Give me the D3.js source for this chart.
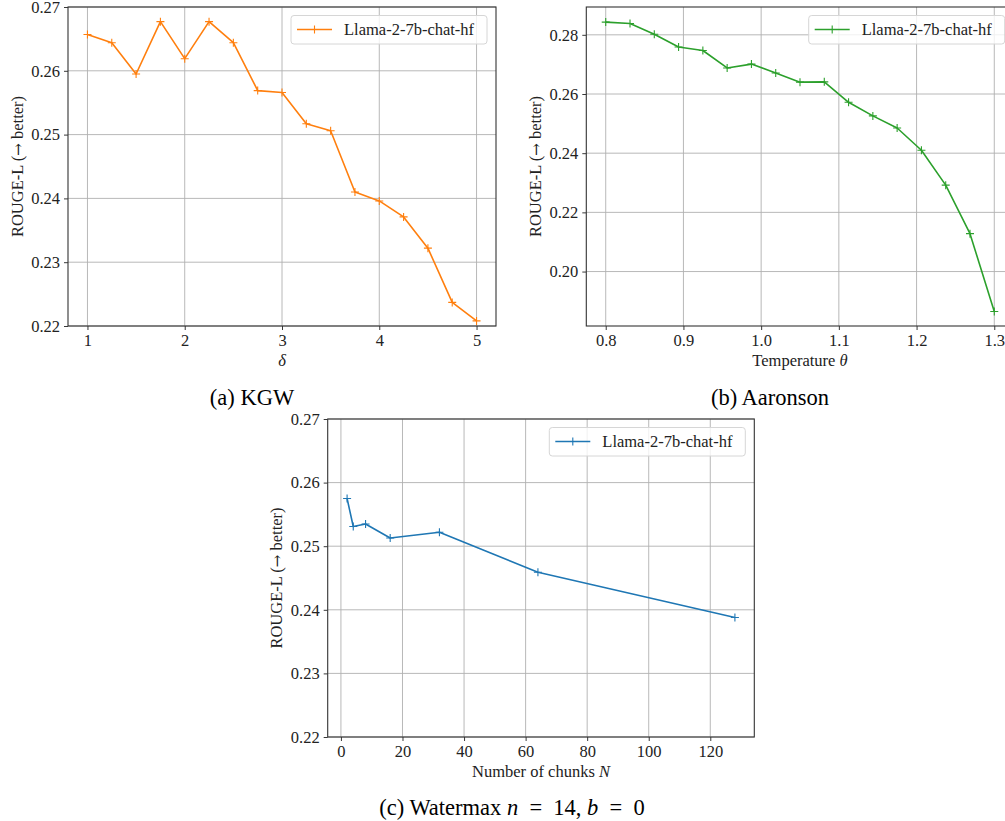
<!DOCTYPE html>
<html><head><meta charset="utf-8">
<script src="https://cdn.jsdelivr.net/npm/d3@7"></script>
<style>body{margin:0;background:#fff;} svg{display:block;}</style>
</head><body>
<svg id="c" width="1005" height="821"></svg>
<script>
// ---- data ----
const seriesName = "Llama-2-7b-chat-hf";
const kgwDelta = [1, 1.25, 1.5, 1.75, 2, 2.25, 2.5, 2.75, 3, 3.25, 3.5, 3.75, 4, 4.25, 4.5, 4.75, 5];
const kgwRouge = [0.2657, 0.2644, 0.2595, 0.2677, 0.2619, 0.2677, 0.2644, 0.2569, 0.2566, 0.2517, 0.2506, 0.2410, 0.2396, 0.2371, 0.2322, 0.2237, 0.2208];
const aarTemp = [0.8, 0.83125, 0.8625, 0.89375, 0.925, 0.95625, 0.9875, 1.01875, 1.05, 1.08125, 1.1125, 1.14375, 1.175, 1.20625, 1.2375, 1.26875, 1.3];
const aarRouge = [0.2843, 0.2838, 0.2802, 0.2759, 0.2747, 0.2688, 0.2701, 0.2671, 0.2640, 0.2641, 0.2572, 0.2526, 0.2485, 0.2410, 0.2292, 0.2128, 0.1865];
const wmChunks = [2, 4, 8, 16, 32, 64, 128];
const wmRouge = [0.2575, 0.2531, 0.2535, 0.2513, 0.2522, 0.2459, 0.2388];
const kgwXTicks = [1, 2, 3, 4, 5];
const kgwYTicks = [0.22, 0.23, 0.24, 0.25, 0.26, 0.27];
const aarXTicks = [0.8, 0.9, 1.0, 1.1, 1.2, 1.3];
const aarYTicks = [0.20, 0.22, 0.24, 0.26, 0.28];
const wmXTicks = [0, 20, 40, 60, 80, 100, 120];
const wmYTicks = [0.22, 0.23, 0.24, 0.25, 0.26, 0.27];

const svg = d3.select("#c");
const FONT = "'Liberation Serif', 'Times New Roman', serif";
const FS = 16.5;

function panel(o) {
  const x = d3.scaleLinear().domain(o.xDom).range([o.left, o.right]);
  const y = d3.scaleLinear().domain(o.yDom).range([o.bottom, o.top]);
  const g = svg.append("g");
  const clipId = "clip" + o.id;
  svg.append("clipPath").attr("id", clipId).append("rect")
    .attr("x", o.left).attr("y", o.top).attr("width", o.right - o.left).attr("height", o.bottom - o.top);
  // grid
  g.append("g").selectAll("line").data(o.xTicks).join("line")
    .attr("x1", d => x(d)).attr("x2", d => x(d)).attr("y1", o.top).attr("y2", o.bottom)
    .attr("stroke", "#b0b0b0").attr("stroke-width", 0.9);
  g.append("g").selectAll("line").data(o.yTicks).join("line")
    .attr("y1", d => y(d)).attr("y2", d => y(d)).attr("x1", o.left).attr("x2", o.right)
    .attr("stroke", "#b0b0b0").attr("stroke-width", 0.9);
  // axes
  const xa = g.append("g").attr("transform", `translate(0,${o.bottom})`)
    .call(d3.axisBottom(x).tickValues(o.xTicks).tickFormat(o.xFmt).tickSize(4).tickPadding(4));
  const ya = g.append("g").attr("transform", `translate(${o.left},0)`)
    .call(d3.axisLeft(y).tickValues(o.yTicks).tickFormat(d3.format(".2f")).tickSize(4).tickPadding(4));
  [xa, ya].forEach(a => {
    a.select(".domain").remove();
    a.selectAll(".tick line").attr("stroke", "#222").attr("stroke-width", 0.9);
    a.selectAll("text").attr("font-family", FONT).attr("font-size", FS).attr("fill", "#222");
  });
  // spines
  g.append("rect").attr("x", o.left).attr("y", o.top).attr("width", o.right - o.left).attr("height", o.bottom - o.top)
    .attr("fill", "none").attr("stroke", "#333").attr("stroke-width", 1.1);
  // line
  const pts = o.xs.map((v, i) => [v, o.ys[i]]);
  const pg = g.append("g").attr("clip-path", `url(#${clipId})`);
  pg.append("path").datum(pts)
    .attr("d", d3.line().x(d => x(d[0])).y(d => y(d[1])))
    .attr("fill", "none").attr("stroke", o.color).attr("stroke-width", 1.6).attr("stroke-linejoin", "round");
  const ms = 4;
  const mk = g.append("g");
  pts.forEach(d => {
    mk.append("path").attr("d", `M${x(d[0]) - ms},${y(d[1])}H${x(d[0]) + ms}M${x(d[0])},${y(d[1]) - ms}V${y(d[1]) + ms}`)
      .attr("stroke", o.color).attr("stroke-width", 1.1);
  });
  // legend
  const lx = o.right - 9 - 196, ly = o.top + 8.5;
  g.append("rect").attr("x", lx).attr("y", ly).attr("width", 196).attr("height", 28.5).attr("rx", 3)
    .attr("fill", "#fff").attr("fill-opacity", 0.8).attr("stroke", "#d6d6d6").attr("stroke-width", 1);
  g.append("line").attr("x1", lx + 6).attr("x2", lx + 41).attr("y1", ly + 14).attr("y2", ly + 14)
    .attr("stroke", o.color).attr("stroke-width", 1.6);
  g.append("path").attr("d", `M${lx + 23.5 - ms},${ly + 14}H${lx + 23.5 + ms}M${lx + 23.5},${ly + 14 - ms}V${ly + 14 + ms}`)
    .attr("stroke", o.color).attr("stroke-width", 1.1);
  g.append("text").attr("x", lx + 53).attr("y", ly + 14).attr("dy", "0.35em")
    .attr("font-family", FONT).attr("font-size", FS).attr("fill", "#222").text(seriesName);
  // y label
  const yl = g.append("text").attr("transform", `translate(${o.left - 51},${(o.top + o.bottom) / 2}) rotate(-90)`)
    .attr("text-anchor", "middle").attr("dy", "0.35em")
    .attr("font-family", FONT).attr("font-size", FS).attr("fill", "#222");
  yl.append("tspan").text("ROUGE-L (");
  yl.append("tspan").attr("font-family", "'DejaVu Serif', serif").attr("font-size", FS - 1.5).text("\u2192");
  yl.append("tspan").text(" better)");
  // x label
  const xl = g.append("text").attr("x", (o.left + o.right) / 2).attr("y", o.bottom + 34).attr("dy", "0.35em")
    .attr("text-anchor", "middle").attr("font-family", FONT).attr("font-size", FS).attr("fill", "#222");
  o.xLabel.forEach(p => xl.append("tspan").attr("font-style", p[1] ? "italic" : "normal").text(p[0]));
  // caption
  const cp = svg.append("text").attr("x", o.capX).attr("y", o.capY).attr("dy", "0.35em")
    .attr("text-anchor", "middle").attr("font-family", FONT).attr("font-size", 22.5).attr("fill", "#000")
    .style("white-space", "pre");
  o.caption.forEach(p => cp.append("tspan").attr("font-style", p[1] ? "italic" : "normal").text(p[0]));
}

panel({id: "a", left: 68, right: 496, top: 7, bottom: 326, xDom: [0.8, 5.2], yDom: [0.22, 0.27],
  xTicks: kgwXTicks, yTicks: kgwYTicks, xFmt: d3.format("d"), xs: kgwDelta, ys: kgwRouge, color: "#ff7f0e",
  xLabel: [["\u03b4", true]], capX: 252, capY: 397, caption: [["(a) KGW", false]]});
panel({id: "b", left: 586.3, right: 1013.7, top: 7, bottom: 326, xDom: [0.775, 1.325], yDom: [0.1816, 0.2894],
  xTicks: aarXTicks, yTicks: aarYTicks, xFmt: d3.format(".1f"), xs: aarTemp, ys: aarRouge, color: "#2ca02c",
  xLabel: [["Temperature ", false], ["\u03b8", true]], capX: 770, capY: 397, caption: [["(b) Aaronson", false]]});
panel({id: "c", left: 327.7, right: 754.3, top: 419, bottom: 737, xDom: [-4.3, 134.3], yDom: [0.22, 0.27],
  xTicks: wmXTicks, yTicks: wmYTicks, xFmt: d3.format("d"), xs: wmChunks, ys: wmRouge, color: "#1f77b4",
  xLabel: [["Number of chunks ", false], ["N", true]], capX: 512, capY: 807,
  caption: [["(c) Watermax ", false], ["n", true], ["\u2002=\u200214,\u2005", false], ["b", true], ["\u2002=\u20020", false]]});
</script>
</body></html>
